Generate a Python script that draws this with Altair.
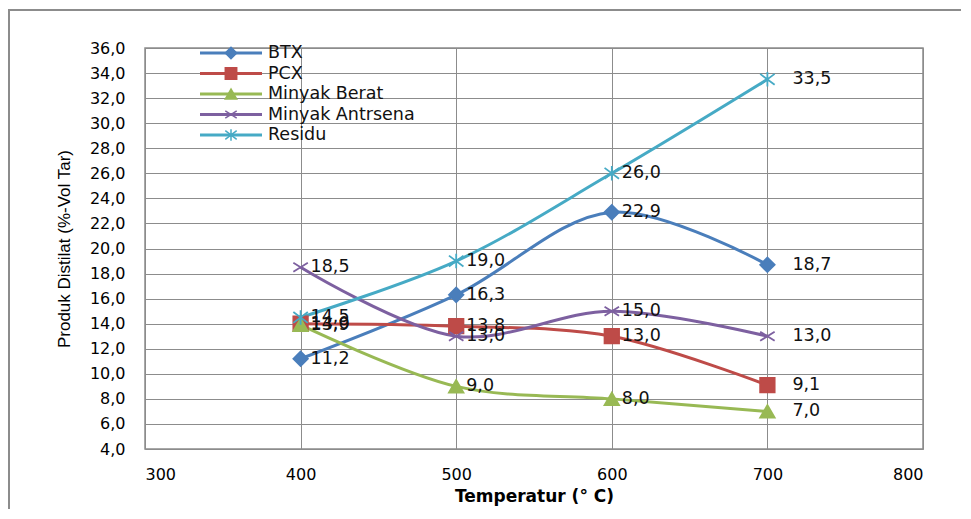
import altair as alt
import pandas as pd

temps = [400, 500, 600, 700]
series_names = ["BTX", "PCX", "Minyak Berat", "Minyak Antrsena", "Residu"]
btx = [11.2, 16.3, 22.9, 18.7]
pcx = [14.0, 13.8, 13.0, 9.1]
minyak_berat = [13.9, 9.0, 8.0, 7.0]
minyak_antrsena = [18.5, 13.0, 15.0, 13.0]
residu = [14.5, 19.0, 26.0, 33.5]
x_ticks = [300, 400, 500, 600, 700, 800]
y_ticks = [4, 6, 8, 10, 12, 14, 16, 18, 20, 22, 24, 26, 28, 30, 32, 34, 36]

colors = ["#4A7EBB", "#BE4B48", "#98B954", "#7D60A0", "#46AAC5"]
shapes = [
    "diamond",
    "square",
    "triangle-up",
    "M-1,-0.62L1,0.62M-1,0.62L1,-0.62",
    "M-1,-0.75L1,0.75M-1,0.75L1,-0.75M0,-1L0,1",
]

rows = []
for name, vals in zip(series_names, [btx, pcx, minyak_berat, minyak_antrsena, residu]):
    for t, v in zip(temps, vals):
        rows.append({"temp": t, "value": v, "series": name})
df = pd.DataFrame(rows)
leg = pd.DataFrame({"series": series_names})

FONT = "DejaVu Sans"
GRID = "#8c8c8c"

color_sc = alt.Scale(domain=series_names, range=colors)
shape_sc = alt.Scale(domain=series_names, range=shapes)

x_axis = alt.Axis(
    values=x_ticks,
    title="Temperatur (° C)",
    titleFont=FONT, titleFontSize=17, titleFontWeight="bold", titleColor="#000",
    titlePadding=6,
    labelFont=FONT, labelFontSize=16, labelColor="#000", labelPadding=17,
    labelOverlap=False,
    ticks=False, domain=False, grid=True, gridColor=GRID, gridWidth=1,
)
y_axis = alt.Axis(
    values=y_ticks,
    labelExpr="replace(format(datum.value, '.1f'), '.', ',')",
    title="Produk Distilat (%-Vol Tar)",
    titleFont="Liberation Sans", titleFontSize=17, titleFontWeight="normal",
    titleColor="#000", titlePadding=16,
    labelFont=FONT, labelFontSize=16, labelColor="#000", labelPadding=20,
    labelOverlap=False,
    ticks=False, domain=False, grid=True, gridColor=GRID, gridWidth=1,
)
x_sc = alt.Scale(domain=[300, 800], nice=False)
y_sc = alt.Scale(domain=[4, 36], nice=False, zero=False)


def X():
    return alt.X("temp:Q", scale=x_sc, axis=x_axis)


def Y():
    return alt.Y("value:Q", scale=y_sc, axis=y_axis)


base = alt.Chart(df)
lines = base.mark_line(interpolate="catmull-rom", strokeWidth=3).encode(
    x=X(), y=Y(),
    color=alt.Color("series:N", scale=color_sc, legend=None),
    detail="series:N",
)
points = base.mark_point(filled=True, size=210, strokeWidth=1.8, opacity=1).encode(
    x=X(), y=Y(),
    color=alt.Color("series:N", scale=color_sc, legend=None),
    stroke=alt.Stroke("series:N", scale=color_sc, legend=None),
    shape=alt.Shape("series:N", scale=shape_sc, legend=None),
)
labels_a = base.transform_filter("datum.temp < 700").transform_calculate(
    lab="replace(format(datum.value, '.1f'), '.', ',')"
).mark_text(align="left", baseline="middle", dx=10, font=FONT, fontSize=17.5, color="#111").encode(
    x=X(), y=Y(), text="lab:N"
)
labels_b = base.transform_filter("datum.temp >= 700").transform_calculate(
    lab="replace(format(datum.value, '.1f'), '.', ',')"
).mark_text(align="left", baseline="middle", dx=25, font=FONT, fontSize=17.5, color="#111").encode(
    x=X(), y=Y(), text="lab:N"
)

main = alt.layer(lines, points, labels_a, labels_b)

leg_y = alt.Y("series:N", sort=series_names,
              scale=alt.Scale(type="point", range=[5, 87], padding=0), axis=None)
lb = alt.Chart(leg)
leg_rule = lb.mark_rule(strokeWidth=3).encode(
    x=alt.value(55), x2=alt.value(117), y=leg_y,
    color=alt.Color("series:N", scale=color_sc, legend=None),
)
leg_pt = lb.mark_point(filled=True, size=130, strokeWidth=1.5, opacity=1).encode(
    x=alt.value(86), y=leg_y,
    color=alt.Color("series:N", scale=color_sc, legend=None),
    stroke=alt.Stroke("series:N", scale=color_sc, legend=None),
    shape=alt.Shape("series:N", scale=shape_sc, legend=None),
)
leg_txt = lb.mark_text(align="left", baseline="middle", font=FONT, fontSize=17.5, color="#111").encode(
    x=alt.value(123), y=leg_y, text="series:N"
)
frame = alt.Chart(pd.DataFrame({"a": [0]})).mark_rect(
    fill=None, stroke="#8c8c8c", strokeWidth=2
).encode(x=alt.value(-136), x2=alt.value(850), y=alt.value(-38), y2=alt.value(490))

legend_layer = alt.layer(leg_rule, leg_pt, leg_txt)

chart = alt.layer(main, legend_layer, frame).resolve_scale(y="independent").properties(
    width=778, height=401,
    autosize=alt.AutoSizeParams(type="none"),
    padding={"left": 137, "top": 40, "right": 38, "bottom": 60},
    background="#ffffff",
).configure_view(stroke=GRID, strokeWidth=1.5)

chart.save("out.html", embed_options={"renderer": "svg", "actions": False})
